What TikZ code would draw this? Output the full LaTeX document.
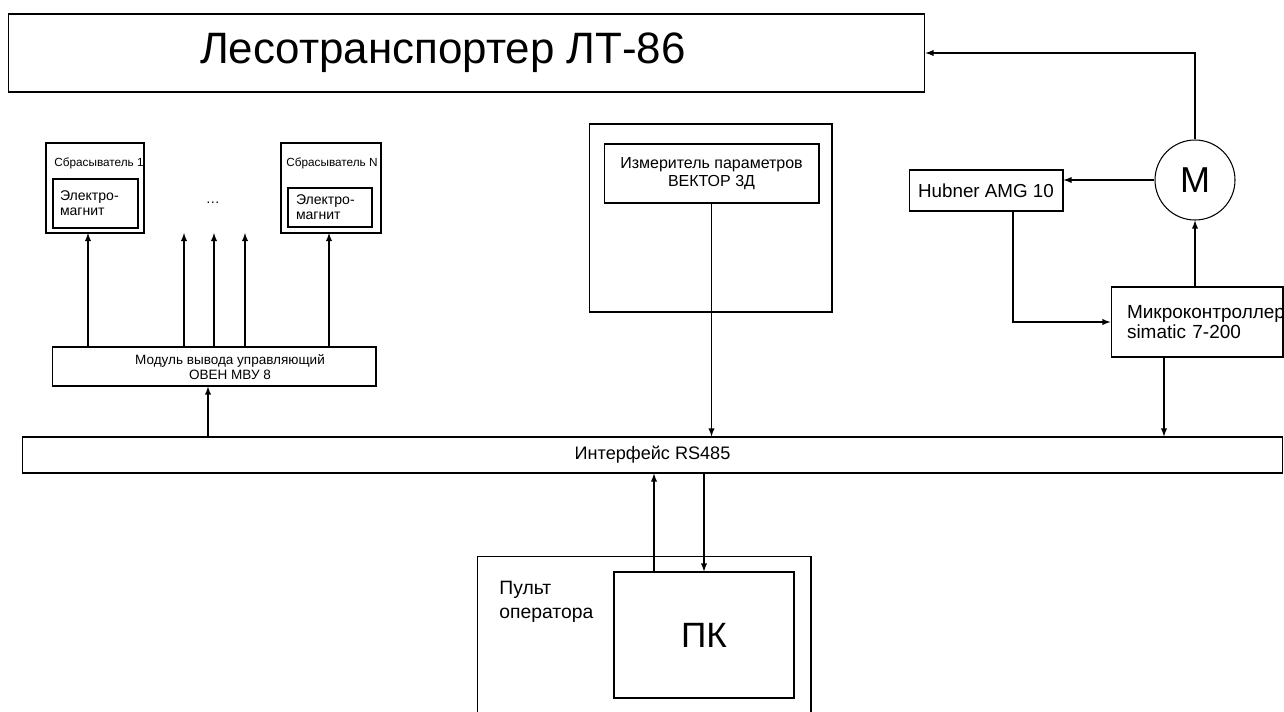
\documentclass[tikz,border=0pt]{standalone}
\usepackage{fontspec}
\setmainfont{Liberation Sans}
\usetikzlibrary{arrows}
\usetikzlibrary{calc}

\begin{document}
\begin{tikzpicture}[x=0.02cm,y=-0.02cm,>=latex,
  box/.style={draw,line width=0.6pt,inner sep=0pt},
  conn/.style={->,line width=0.6pt}]
\useasboundingbox (0,0) rectangle (1284,711);
\clip (0,0) rectangle (1284,711);
% top: conveyor
\node[box,minimum width=18.34cm,minimum height=1.56cm] (lt) at (466.5,53) {};
\node[font=\fontsize{25}{30}\selectfont] (lttext) at (443,53) {Лесотранспортер ЛТ-86};
% drive side
\node[box,circle,minimum size=1.6cm,font=\fontsize{20.5}{24}\selectfont] (M) at (1195,180) {M};
\node[box,minimum width=3.08cm,minimum height=0.82cm,font=\fontsize{10.7}{12}\selectfont] (hub) at (986,190.5) {Hubner AMG 10};
\node[box,minimum width=3.44cm,minimum height=1.4cm,inner xsep=0.32cm,text width=2.8cm,align=left,
  font=\fontsize{10.8}{11.6}\selectfont] (mc) at (1197,322) {Микроконтроллер\\simatic 7-200};
% bus
\node[box,minimum width=25.22cm,minimum height=0.72cm,font=\fontsize{10.3}{12}\selectfont] (bus) at (652.5,455) {Интерфейс RS485};
% measuring unit
\node[box,minimum width=4.86cm,minimum height=3.76cm] (vekbox) at (710.5,218) {};
\node[box,minimum width=4.3cm,minimum height=1.18cm,align=center,font=\fontsize{9.1}{10}\selectfont] (vek) at (711.5,173.5) {Измеритель параметров\\ВЕКТОР 3Д};
% droppers
\node[box,minimum width=1.96cm,minimum height=1.8cm] (sb1) at (95,188) {};
\node[anchor=west,inner sep=0pt,font=\fontsize{6.7}{8}\selectfont] (sb1text) at (54,163) {Сбрасыватель 1};
\node[box,minimum width=1.7cm,minimum height=0.98cm,inner xsep=0.14cm,text width=1.42cm,align=left,
  font=\fontsize{8}{8.5}\selectfont] (em1) at (95.5,203.5) {Электро-\\магнит};
\node[box,minimum width=2cm,minimum height=1.8cm] (sbN) at (331,188) {};
\node[anchor=west,inner sep=0pt,font=\fontsize{6.7}{8}\selectfont] (sbNtext) at (286,163) {Сбрасыватель N};
\node[box,minimum width=1.68cm,minimum height=0.78cm,inner xsep=0.16cm,text width=1.36cm,align=left,
  font=\fontsize{8}{8.5}\selectfont] (emN) at (330,207.5) {Электро-\\магнит};
\node[font=\fontsize{8}{9}\selectfont] (dots) at (213,203) {\dots};
\node[box,minimum width=6.48cm,minimum height=0.78cm] (mvu) at (214,366.5) {};
\node[align=center,inner sep=0pt,font=\fontsize{7.7}{9}\selectfont] (mvutext) at (230,367) {Модуль вывода управляющий\\ОВЕН МВУ 8};
% operator desk
\node[box,minimum width=6.68cm,minimum height=3.6cm] (pult) at (644,646) {};
\node[anchor=north west,align=left,inner sep=0pt,font=\fontsize{11}{13.6}\selectfont] (pulttext) at (499,581) {Пульт\\оператора};
\node[box,minimum width=3.6cm,minimum height=2.52cm,font=\fontsize{20}{24}\selectfont] (pc) at (704,635) {ПК};

\coordinate (o1) at (88,233);
\coordinate (o2) at (184,233);
\coordinate (o3) at (214,233);
\coordinate (o4) at (245,233);
\coordinate (o5) at (329,233);
\coordinate (mcout) at ($(mc.south)+(-33,0)$);
\coordinate (mvuin) at ($(mvu.south)+(-6,0)$);
\coordinate (pcup) at ($(pc.north)+(-50,0)$);

\draw[conn] (M.north) |- (lt.east);
\draw[conn] (M.west) -- (M.west -| hub.east);
\draw[conn] ($(hub.south)+(27,0)$) |- (mc.west);
\draw[conn] (mc.north -| M.south) -- (M.south);
\draw[conn] (mcout) -- (mcout |- bus.north);
\draw[conn] (vek.south) -- (vek.south |- bus.north);
\draw[conn] (mvuin |- bus.north) -- (mvuin);
\foreach \o in {o1,o2,o3,o4,o5}{
\draw[conn] (\o |- mvu.north) -- (\o);
}
\draw[conn] (pcup) -- (pcup |- bus.south);
\draw[conn] (pc.north |- bus.south) -- (pc.north);
\end{tikzpicture}
\end{document}
